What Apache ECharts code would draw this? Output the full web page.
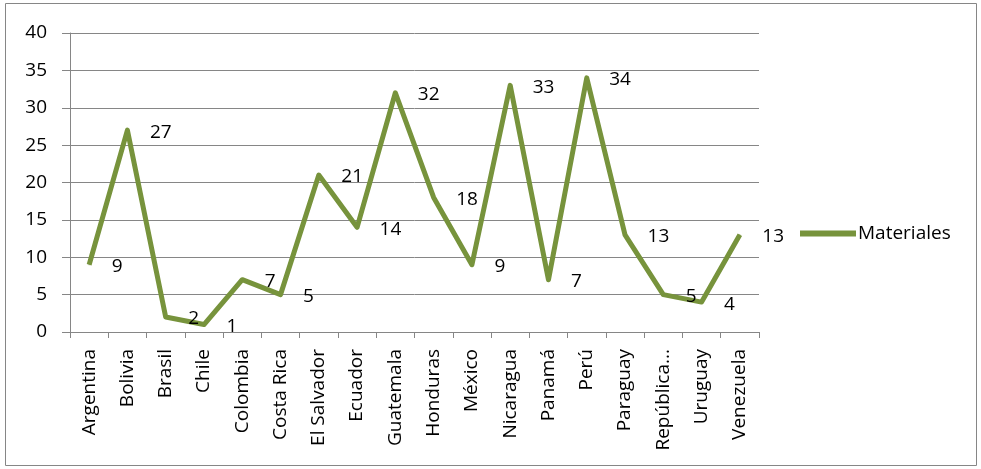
<!DOCTYPE html>
<html>
<head>
<meta charset="utf-8">
<title>Materiales por país</title>
<script src="https://cdn.jsdelivr.net/npm/echarts@6/dist/echarts.min.js"></script>
<style>
  html, body { margin: 0; padding: 0; background: #fff; }
  #chart { width: 981px; height: 469px; }
</style>
</head>
<body>
<div id="chart"></div>
<script>
// Categorías (países) y valores de la serie
const paises = ['Argentina', 'Bolivia', 'Brasil', 'Chile', 'Colombia', 'Costa Rica',
  'El Salvador', 'Ecuador', 'Guatemala', 'Honduras', 'México', 'Nicaragua',
  'Panamá', 'Perú', 'Paraguay', 'República Dominicana', 'Uruguay', 'Venezuela'];
const materiales = [9, 27, 2, 1, 7, 5, 21, 14, 32, 18, 9, 33, 7, 34, 13, 5, 4, 13];
const nombreSerie = 'Materiales';
const yMin = 0, yMax = 40, yPaso = 5;

const fuente = '"Open Sans", "Noto Sans", sans-serif';
const verde = '#77933C';
const gris = '#868686';
const tam = 19;

const chart = echarts.init(document.getElementById('chart'));
chart.setOption({
  animation: false,
  textStyle: { fontFamily: fuente },
  graphic: [{
    type: 'rect',
    shape: { x: 5.5, y: 3.5, width: 971, height: 462 },
    style: { fill: 'none', stroke: gris, lineWidth: 1 },
    silent: true
  }],
  grid: { left: 70, right: 222, top: 33, bottom: 137 },
  legend: {
    orient: 'vertical',
    left: 795,
    top: 219,
    itemWidth: 56,
    itemHeight: 6,
    itemGap: 4,
    textStyle: { fontFamily: fuente, fontSize: tam, color: '#000', padding: [0, 0, 0, -3] },
    data: [{ name: nombreSerie, icon: 'rect' }]
  },
  xAxis: {
    type: 'category',
    data: paises,
    boundaryGap: true,
    axisLine: { lineStyle: { color: gris, width: 1 } },
    axisTick: { show: true, length: 6, interval: 0, lineStyle: { color: gris } },
    axisLabel: {
      rotate: 90,
      interval: 0,
      margin: 17,
      fontFamily: fuente,
      fontSize: tam,
      color: '#000',
      formatter: v => v.length > 12 ? v.slice(0, 9) + '...' : v
    }
  },
  yAxis: {
    type: 'value',
    min: yMin,
    max: yMax,
    interval: yPaso,
    axisLine: { show: true, lineStyle: { color: gris, width: 1 } },
    axisTick: { show: true, length: 8, lineStyle: { color: gris } },
    splitLine: { lineStyle: { color: gris, width: 1 } },
    axisLabel: { margin: 23, fontFamily: fuente, fontSize: tam, color: '#000' }
  },
  series: [{
    name: nombreSerie,
    type: 'line',
    data: materiales,
    symbol: 'circle',
    symbolSize: 1,
    showSymbol: true,
    lineStyle: { color: verde, width: 5, join: 'round' },
    itemStyle: { color: verde },
    label: {
      show: true,
      position: 'right',
      distance: 22,
      offset: [0, 2],
      fontFamily: fuente,
      fontSize: tam,
      color: '#000'
    }
  }]
});
</script>
</body>
</html>
